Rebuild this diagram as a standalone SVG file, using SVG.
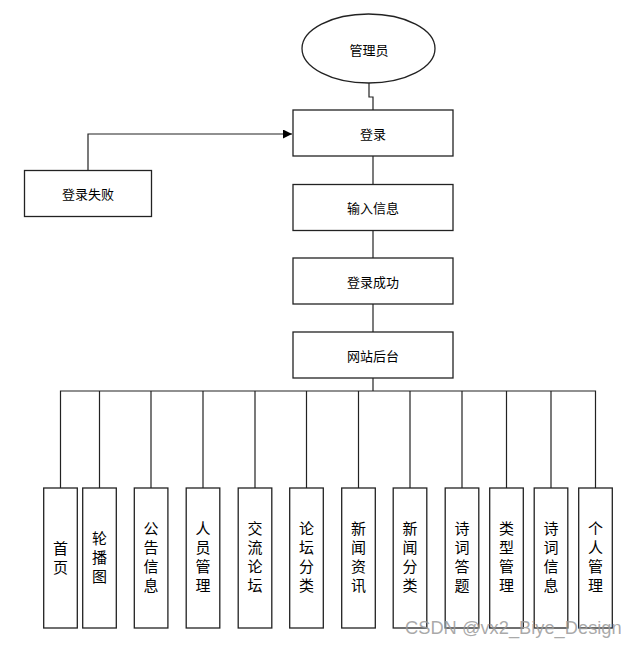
<svg xmlns="http://www.w3.org/2000/svg" width="636" height="647" viewBox="0 0 636 647">
<defs>
<style>
.b{fill:#fff;stroke:#222;stroke-width:1.3}
.t{font-family:"Noto Sans CJK SC","Noto Sans",sans-serif;font-size:13px;fill:#000;text-anchor:middle;dominant-baseline:central}
.v{font-family:"Noto Sans CJK SC","Noto Sans",sans-serif;font-size:15px;fill:#000;text-anchor:middle;dominant-baseline:central}
.c{fill:none;stroke:#222;stroke-width:1.2}
.wm{font-family:"Liberation Sans",Arial,sans-serif;font-size:18.3px;fill:#9a9a9a;fill-opacity:0.85}
</style>
<marker id="ah" markerWidth="10" markerHeight="10" refX="9" refY="4.5" orient="auto" markerUnits="userSpaceOnUse">
<path d="M0,0 L9,4.5 L0,9 Z" fill="#000"/>
</marker>
</defs>
<rect width="636" height="647" fill="#fff"/>
<g id="connectors">
<path class="c" d="M369,83 V97 H373 V110"/>
<path class="c" d="M88,170 V134 H292" marker-end="url(#ah)"/>
<path class="c" d="M373,156 V184"/>
<path class="c" d="M373,230 V258"/>
<path class="c" d="M373,304 V332"/>
<path class="c" d="M373,378 V391"/>
<path class="c" d="M60.5,488 V391 H595.5 V488"/>
<path class="c" d="M99.5,391 V488 M151,391 V488 M203,391 V488 M255,391 V488 M306.5,391 V488 M358.5,391 V488 M410,391 V488 M462,391 V488 M506.5,391 V488 M551,391 V488"/>
</g>
<g id="admin">
<ellipse cx="368.5" cy="48.5" rx="66.5" ry="34.5" class="b"/>
<text class="t" x="369" y="49">管理员</text>
</g>
<g id="login">
<rect class="b" x="293" y="110" width="160" height="46"/>
<text class="t" x="373" y="133">登录</text>
</g>
<g id="login-fail">
<rect class="b" x="24.5" y="170.5" width="127" height="46"/>
<text class="t" x="88" y="193">登录失败</text>
</g>
<g id="input-info">
<rect class="b" x="293" y="184.5" width="160" height="46"/>
<text class="t" x="373" y="207">输入信息</text>
</g>
<g id="login-ok">
<rect class="b" x="293" y="258" width="160" height="46"/>
<text class="t" x="373" y="281">登录成功</text>
</g>
<g id="backend">
<rect class="b" x="293" y="332" width="160" height="46"/>
<text class="t" x="373" y="355">网站后台</text>
</g>
<g id="home">
<rect class="b" x="43.7" y="488" width="33.6" height="140"/>
<text class="v" x="60.5"><tspan x="60.5" y="547">首</tspan><tspan x="60.5" y="566">页</tspan></text>
</g>
<g id="carousel">
<rect class="b" x="82.7" y="488" width="33.6" height="140"/>
<text class="v"><tspan x="99.5" y="537">轮</tspan><tspan x="99.5" y="556">播</tspan><tspan x="99.5" y="575">图</tspan></text>
</g>
<g id="notice">
<rect class="b" x="134.3" y="488" width="33.6" height="140"/>
<text class="v"><tspan x="151" y="527">公</tspan><tspan x="151" y="546">告</tspan><tspan x="151" y="565">信</tspan><tspan x="151" y="584">息</tspan></text>
</g>
<g id="staff">
<rect class="b" x="186.2" y="488" width="33.6" height="140"/>
<text class="v"><tspan x="203" y="527">人</tspan><tspan x="203" y="546">员</tspan><tspan x="203" y="565">管</tspan><tspan x="203" y="584">理</tspan></text>
</g>
<g id="forum">
<rect class="b" x="238.2" y="488" width="33.6" height="140"/>
<text class="v"><tspan x="255" y="527">交</tspan><tspan x="255" y="546">流</tspan><tspan x="255" y="565">论</tspan><tspan x="255" y="584">坛</tspan></text>
</g>
<g id="forum-cat">
<rect class="b" x="289.7" y="488" width="33.6" height="140"/>
<text class="v"><tspan x="306.5" y="527">论</tspan><tspan x="306.5" y="546">坛</tspan><tspan x="306.5" y="565">分</tspan><tspan x="306.5" y="584">类</tspan></text>
</g>
<g id="news">
<rect class="b" x="341.7" y="488" width="33.6" height="140"/>
<text class="v"><tspan x="358.5" y="527">新</tspan><tspan x="358.5" y="546">闻</tspan><tspan x="358.5" y="565">资</tspan><tspan x="358.5" y="584">讯</tspan></text>
</g>
<g id="news-cat">
<rect class="b" x="393.2" y="488" width="33.6" height="140"/>
<text class="v"><tspan x="410" y="527">新</tspan><tspan x="410" y="546">闻</tspan><tspan x="410" y="565">分</tspan><tspan x="410" y="584">类</tspan></text>
</g>
<g id="quiz">
<rect class="b" x="445.2" y="488" width="33.6" height="140"/>
<text class="v"><tspan x="462" y="527">诗</tspan><tspan x="462" y="546">词</tspan><tspan x="462" y="565">答</tspan><tspan x="462" y="584">题</tspan></text>
</g>
<g id="type">
<rect class="b" x="489.7" y="488" width="33.6" height="140"/>
<text class="v"><tspan x="506.5" y="527">类</tspan><tspan x="506.5" y="546">型</tspan><tspan x="506.5" y="565">管</tspan><tspan x="506.5" y="584">理</tspan></text>
</g>
<g id="poem">
<rect class="b" x="534.2" y="488" width="33.6" height="140"/>
<text class="v"><tspan x="551" y="527">诗</tspan><tspan x="551" y="546">词</tspan><tspan x="551" y="565">信</tspan><tspan x="551" y="584">息</tspan></text>
</g>
<g id="personal">
<rect class="b" x="578.7" y="488" width="33.6" height="140"/>
<text class="v"><tspan x="595.5" y="527">个</tspan><tspan x="595.5" y="546">人</tspan><tspan x="595.5" y="565">管</tspan><tspan x="595.5" y="584">理</tspan></text>
</g>
<text class="wm" x="405" y="634">CSDN @vx2_Biye_Design</text>
</svg>
